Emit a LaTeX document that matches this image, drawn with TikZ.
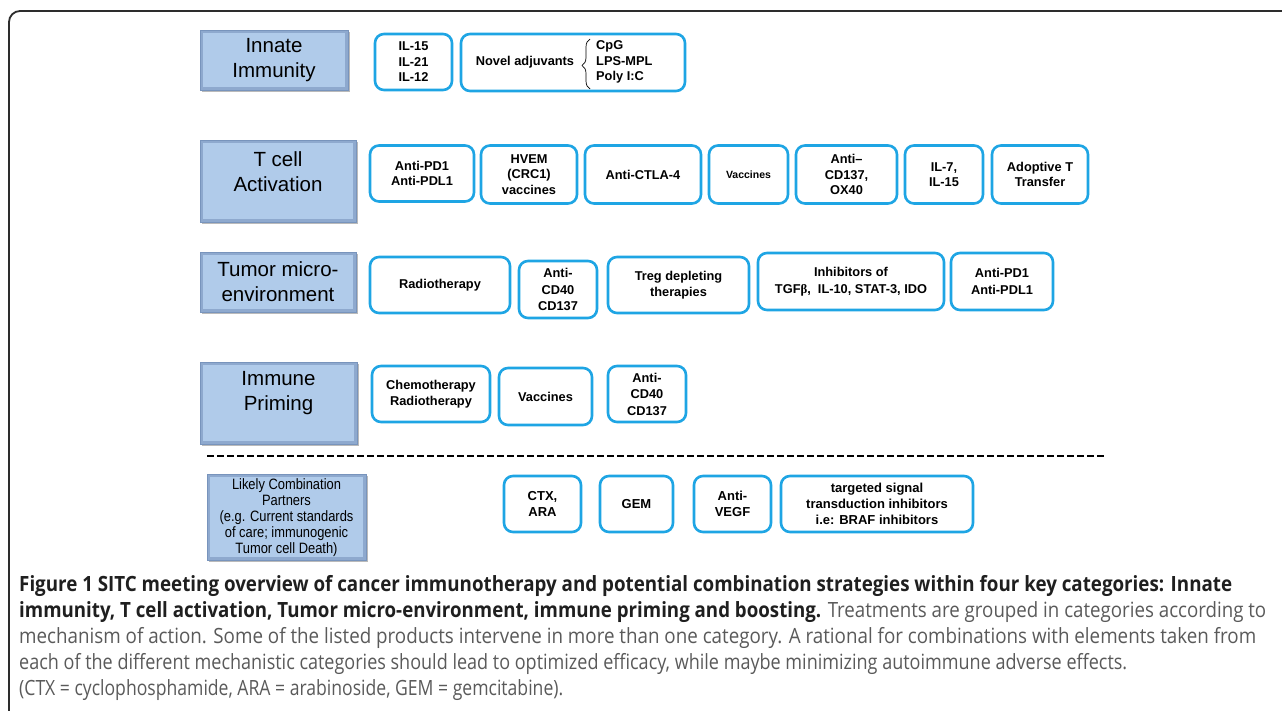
\documentclass[tikz,border=0pt]{standalone}
\usepackage{fontspec}
\usepackage{graphicx}
\setmainfont{Liberation Sans}
\newfontfamily\capfont{Open Sans}
\newfontfamily\narrowfont[FakeStretch=0.86]{Liberation Sans}
\usetikzlibrary{decorations.pathreplacing,shadows}
\definecolor{itemblue}{RGB}{30,165,228}
\definecolor{catfill}{RGB}{174,201,232}
\definecolor{catin}{RGB}{176,203,234}
\definecolor{catedge}{RGB}{120,148,188}
\definecolor{capgray}{RGB}{90,90,90}
\definecolor{framecol}{RGB}{45,45,45}
\newcommand\myitemfont{\fontsize{12.8}{15.5}\selectfont\bfseries}
\newcommand\mycatfont{\fontsize{20.5}{25}\selectfont}
\newcommand\mycapfont{\capfont\fontsize{21}{26}\selectfont}
\tikzset{
  item/.style={draw=itemblue, line width=2.6pt, rounded corners=9pt, fill=white,
    align=center, inner sep=0pt, font=\myitemfont},
  cat/.style={draw=catedge, line width=0.8pt, fill=catedge!60!catfill, inner sep=0pt,
    align=center, font=\mycatfont,
    drop shadow={shadow xshift=2pt, shadow yshift=-2pt, fill=black!45, opacity=0.6},
    path picture={\fill[catin] ([shift={(3pt,-3pt)}]path picture bounding box.north west)
      rectangle ([shift={(-3pt,3pt)}]path picture bounding box.south east);}},
  plain/.style={inner sep=0pt, align=center},
}
\begin{document}
\begin{tikzpicture}[x=1pt,y=-1pt]
\path[use as bounding box] (0,0) rectangle (1282,711);
\clip (0,0) rectangle (1282,711);
\fill[white] (0,0) rectangle (1282,711);
% frame
\coordinate (fa) at (9,760);
\coordinate (fb) at (9,11);
\coordinate (fc) at (1320,11);
\draw[framecol, line width=1.8pt, rounded corners=11pt] (fa) -- (fb) -- (fc);

% categories
\node[cat, minimum width=148pt, minimum height=60pt] (c1) at (274,60) {Innate\\Immunity};
\node[cat, minimum width=156pt, minimum height=82pt] (c2) at (278,181) {};
\node[plain, font=\mycatfont] (c2t) at (278,171.5) {T cell\\Activation};
\node[cat, minimum width=156pt, minimum height=60pt] (c3) at (278,282) {Tumor micro-\\environment};
\node[cat, minimum width=157pt, minimum height=82pt] (c4) at (278.5,403) {};
\node[plain, font=\mycatfont] (c4t) at (278.5,393.5) {Immune\\Priming};
\node[cat, minimum width=159pt, minimum height=86pt] (c5) at (286.5,517) {};
\node[plain, font=\narrowfont\fontsize{15}{16}\selectfont] (c5t) at (286.5,518)
  {Likely Combination\\Partners\\(e.g. Current standards\\of care; immunogenic\\Tumor cell Death)};

% row 1
\node[item, minimum width=77pt, minimum height=56pt] (r1a) at (413.5,62) {IL-15\\IL-21\\IL-12};
\node[item, minimum width=224pt, minimum height=57pt] (r1b) at (573,62.5) {};
\node[plain, font=\myitemfont] (nov) at (525,62) {Novel adjuvants};
\coordinate (bra) at (590,89);
\coordinate (brb) at (590,39);
\draw[line width=0.7pt, decorate, decoration={brace, amplitude=8pt, aspect=0.47}] (bra) -- (brb);
\node[plain, anchor=west, align=left, font=\myitemfont] (adj) at (596,62) {CpG\\LPS-MPL\\Poly I:C};

% row 2
\node[item, minimum width=104pt, minimum height=56pt] (r2a) at (422,173.5) {Anti-PD1\\Anti-PDL1};
\node[item, minimum width=96pt, minimum height=58pt] (r2b) at (529,174.5) {HVEM\\(CRC1)\\vaccines};
\node[item, minimum width=116pt, minimum height=58pt] (r2c) at (643,174.5) {Anti-CTLA-4};
\node[item, minimum width=79pt, minimum height=58pt, font=\fontsize{10.5}{13}\selectfont\bfseries] (r2d) at (748.5,174.5) {Vaccines};
\node[item, minimum width=101pt, minimum height=58pt] (r2e) at (846.5,174.5) {Anti--\\CD137,\\OX40};
\node[item, minimum width=78pt, minimum height=58pt] (r2f) at (944,174.5) {IL-7,\\IL-15};
\node[item, minimum width=96pt, minimum height=58pt] (r2g) at (1040,174.5) {Adoptive T\\Transfer};

% row 3
\node[item, minimum width=140pt, minimum height=56pt] (r3a) at (440,285) {Radiotherapy};
\node[item, minimum width=78pt, minimum height=57pt, font=\fontsize{12.8}{16.5}\selectfont\bfseries] (r3b) at (558,289.5) {Anti-\\CD40\\CD137};
\node[item, minimum width=141pt, minimum height=56pt] (r3c) at (678.5,285) {Treg depleting\\therapies};
\node[item, minimum width=186pt, minimum height=57pt, font=\fontsize{12.8}{17}\selectfont\bfseries] (r3d) at (851,281.5) {Inhibitors of\\TGF{\fontspec{Liberation Serif}β},~ IL-10, STAT-3, IDO};
\node[item, minimum width=102pt, minimum height=57pt, font=\fontsize{12.8}{17}\selectfont\bfseries] (r3e) at (1002,281.5) {Anti-PD1\\Anti-PDL1};

% row 4
\node[item, minimum width=118pt, minimum height=56pt, font=\fontsize{12.8}{16}\selectfont\bfseries] (r4a) at (431,394) {Chemotherapy\\Radiotherapy};
\node[item, minimum width=93pt, minimum height=57pt] (r4b) at (545.5,396.5) {Vaccines};
\node[item, minimum width=78pt, minimum height=56pt, font=\fontsize{12.8}{16.5}\selectfont\bfseries] (r4c) at (647,394) {Anti-\\CD40\\CD137};

% separator
\coordinate (dl) at (207,456);
\coordinate (dr) at (1106,456);
\draw[line width=2.6pt, dash pattern=on 7pt off 3pt] (dl) -- (dr);

% row 5
\node[item, minimum width=77pt, minimum height=56pt, font=\fontsize{13}{16}\selectfont\bfseries] (r5a) at (542.5,504) {CTX,\\ARA};
\node[item, minimum width=73pt, minimum height=56pt, font=\fontsize{13}{16}\selectfont\bfseries] (r5b) at (636.5,504) {GEM};
\node[item, minimum width=77pt, minimum height=56pt, font=\fontsize{13}{16}\selectfont\bfseries] (r5c) at (732.5,504) {Anti-\\VEGF};
\node[item, minimum width=192pt, minimum height=56pt, font=\fontsize{13}{16}\selectfont\bfseries] (r5d) at (877,504) {targeted signal\\transduction inhibitors\\i.e: BRAF inhibitors};

% caption
\node[plain, anchor=base west, font=\mycapfont] (cap1) at (19,591)
 {\resizebox{1213pt}{\height}{\bfseries\color{black!88}Figure 1 SITC meeting overview of cancer immunotherapy and potential combination strategies within four key categories: Innate}};
\node[plain, anchor=base west, font=\mycapfont] (cap2) at (19,617)
 {\resizebox{1247pt}{\height}{{\bfseries\color{black!88}immunity, T cell activation, Tumor micro-environment, immune priming and boosting.} {\color{capgray}Treatments are grouped in categories according to}}};
\node[plain, anchor=base west, font=\mycapfont, text=capgray] (cap3) at (19,643)
 {\resizebox{1237pt}{\height}{mechanism of action. Some of the listed products intervene in more than one category. A rational for combinations with elements taken from}};
\node[plain, anchor=base west, font=\mycapfont, text=capgray] (cap4) at (19,669)
 {\resizebox{1108pt}{\height}{each of the different mechanistic categories should lead to optimized efficacy, while maybe minimizing autoimmune adverse effects.}};
\node[plain, anchor=base west, font=\mycapfont, text=capgray] (cap5) at (19,695)
 {\resizebox{544pt}{\height}{(CTX = cyclophosphamide, ARA = arabinoside, GEM = gemcitabine).}};
\end{tikzpicture}
\end{document}
